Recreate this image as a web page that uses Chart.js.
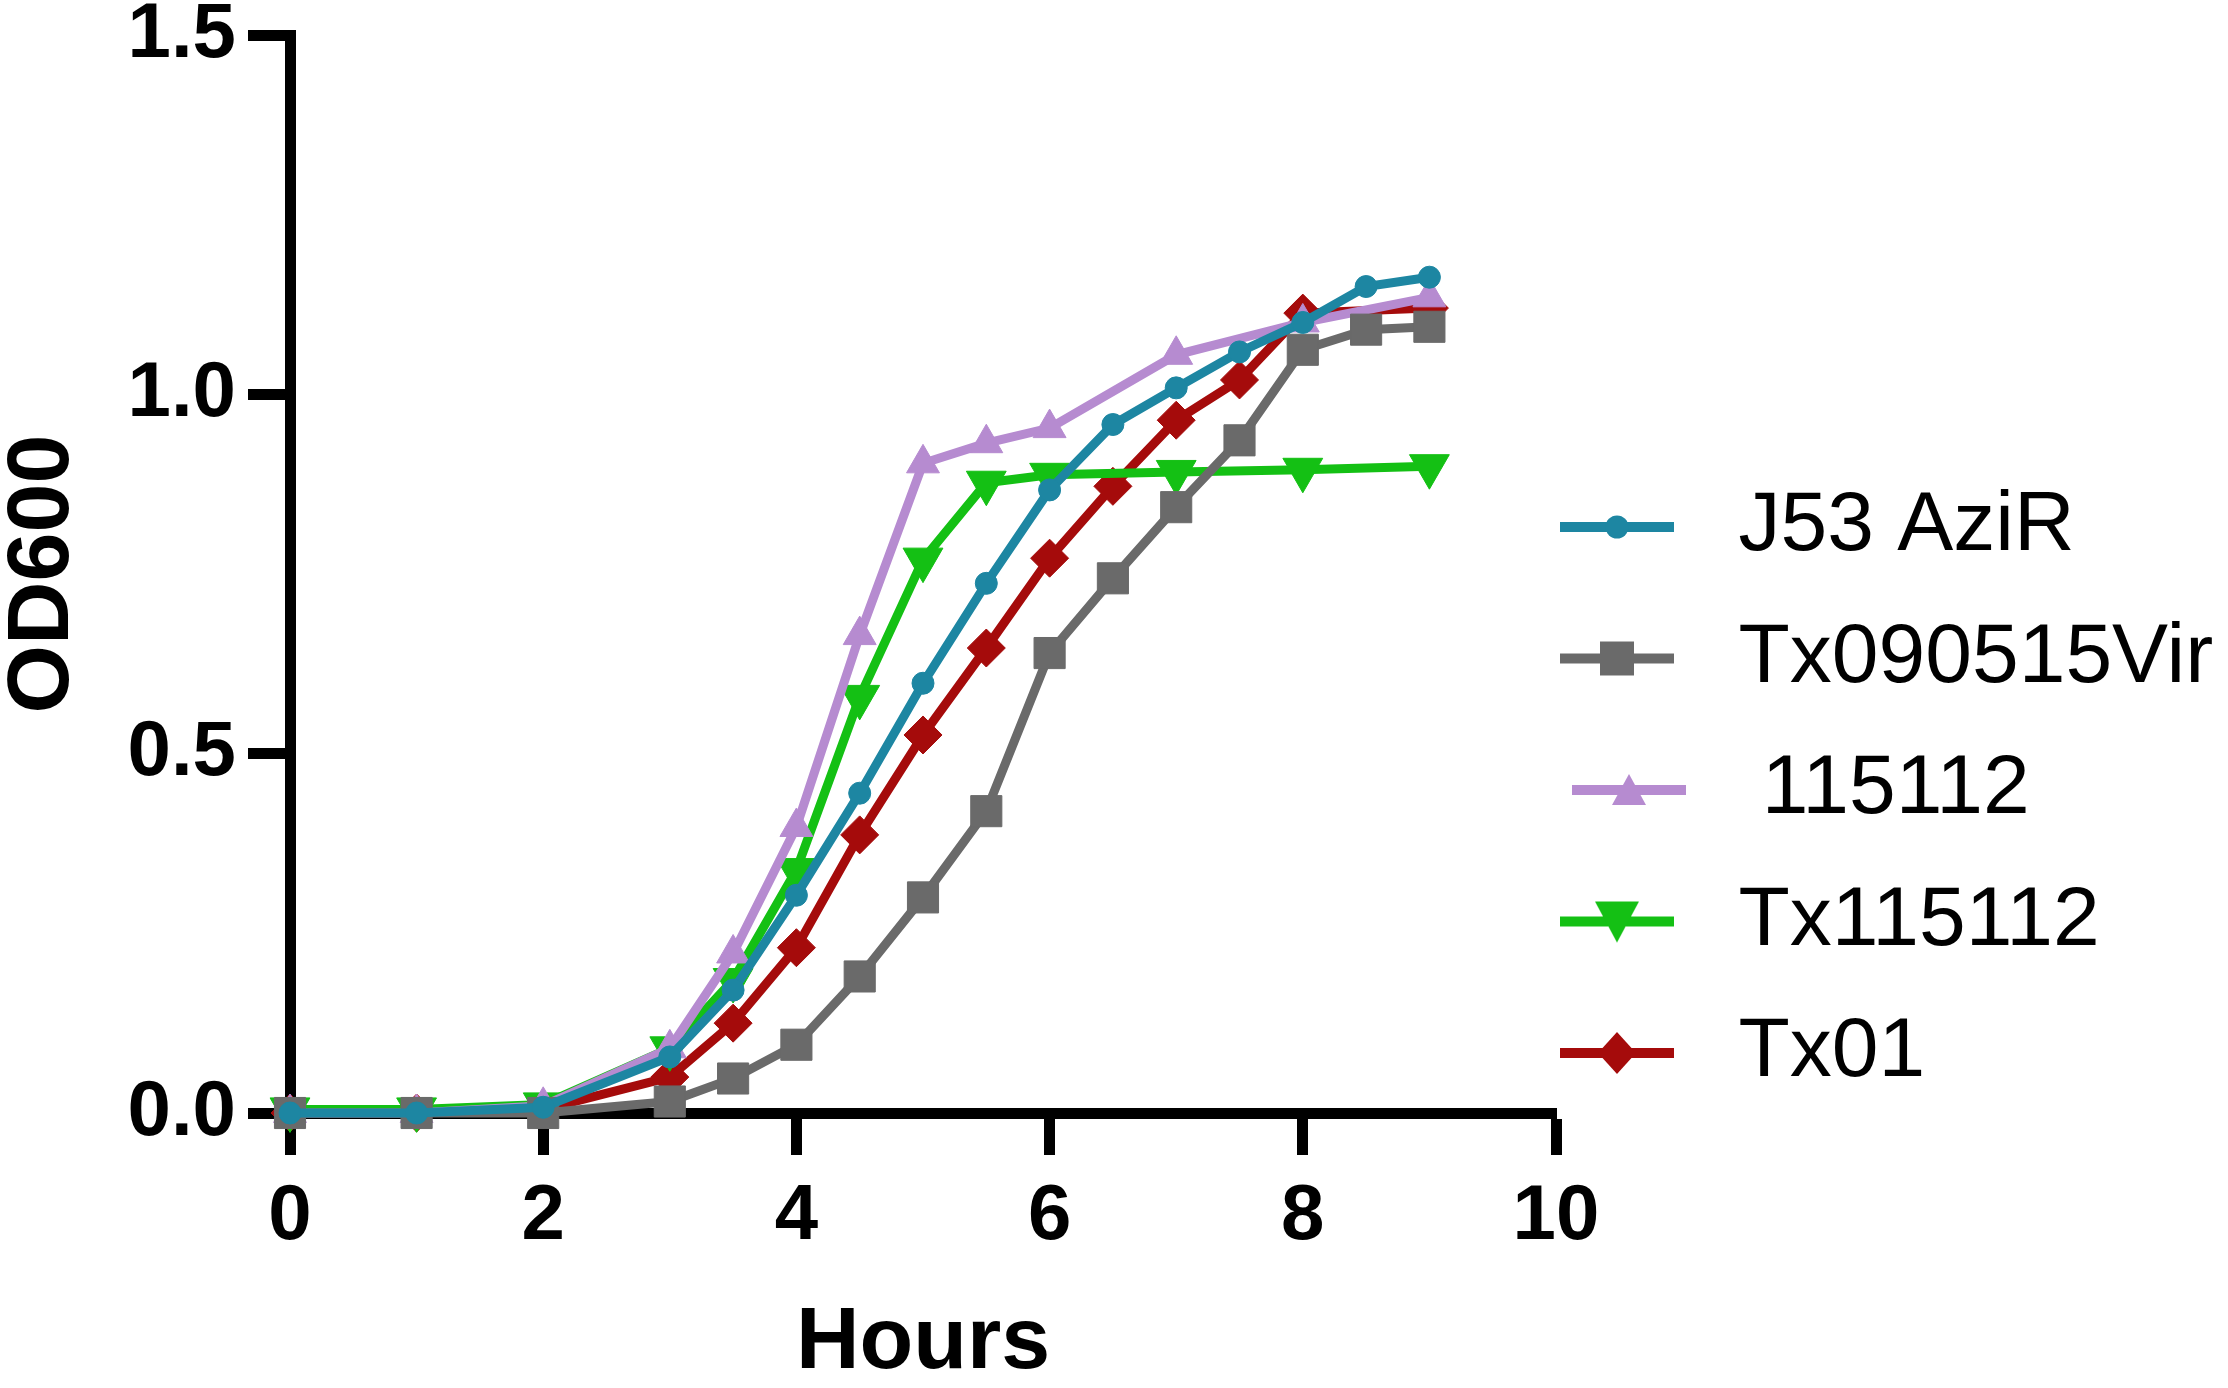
<!DOCTYPE html>
<html>
<head>
<meta charset="utf-8">
<script src="https://cdn.jsdelivr.net/npm/chart.js@4.4.1/dist/chart.umd.min.js"></script>
<style>
  html, body { margin: 0; padding: 0; background: #ffffff; }
  #wrap { width: 2228px; height: 1388px; }
</style>
</head>
<body>
<div id="wrap"><canvas id="c" width="2228" height="1388"></canvas></div>
<script>
// ---------------- data ----------------
const seriesNames = ['J53 AziR', 'Tx090515Vir', '115112', 'Tx115112', 'Tx01'];

const hoursJ53 = [0, 1, 2, 3, 3.5, 4, 4.5, 5, 5.5, 6, 6.5, 7, 7.5, 8, 8.5, 9];
const odJ53    = [0, 0, 0.008, 0.078, 0.171, 0.303, 0.445, 0.598, 0.737, 0.867, 0.958, 1.009, 1.059, 1.100, 1.150, 1.163];

const hoursTx090515Vir = [0, 1, 2, 3, 3.5, 4, 4.5, 5, 5.5, 6, 6.5, 7, 7.5, 8, 8.5, 9];
const odTx090515Vir    = [0, 0, 0, 0.016, 0.048, 0.095, 0.190, 0.300, 0.420, 0.640, 0.744, 0.843, 0.936, 1.062, 1.090, 1.094];

const hours115112 = [0, 1, 2, 3, 3.5, 4, 4.5, 5, 5.5, 6, 7, 8, 9];
const od115112    = [0, 0, 0.010, 0.090, 0.222, 0.398, 0.665, 0.904, 0.932, 0.953, 1.055, 1.100, 1.135];

const hoursTx115112 = [0, 1, 2, 3, 3.5, 4, 4.5, 5, 5.5, 6, 7, 8, 9];
const odTx115112    = [0.005, 0.005, 0.012, 0.090, 0.185, 0.338, 0.579, 0.770, 0.877, 0.888, 0.892, 0.895, 0.900];

const hoursTx01 = [0, 1, 2, 3, 3.5, 4, 4.5, 5, 5.5, 6, 6.5, 7, 7.5, 8, 9];
const odTx01    = [0, 0, 0.005, 0.050, 0.125, 0.230, 0.387, 0.526, 0.647, 0.772, 0.872, 0.964, 1.020, 1.113, 1.120];

const xTicks = [0, 2, 4, 6, 8, 10];
const yTicks = [0, 0.5, 1.0, 1.5];
const xTitle = 'Hours';
const yTitle = 'OD600';

// ---------------- styles ----------------
const FONT = "'Liberation Sans', Arial, Helvetica, sans-serif";
const colors = ['#1d86a2', '#6a6a6a', '#b68bd0', '#14c014', '#a50b0b'];
const styles = [
  { pointStyle: 'circle',   radius: 11, rotation: 0 },
  { pointStyle: 'rect',     radius: 22, rotation: 0 },
  { pointStyle: 'triangle', radius: 19, rotation: 0 },
  { pointStyle: 'triangle', radius: 23, rotation: 180 },
  { pointStyle: 'rectRot',  radius: 19, rotation: 0 }
];

function toPoints(xs, ys) { return xs.map((x, i) => ({ x: x, y: ys[i] })); }
const seriesData = [
  toPoints(hoursJ53, odJ53),
  toPoints(hoursTx090515Vir, odTx090515Vir),
  toPoints(hours115112, od115112),
  toPoints(hoursTx115112, odTx115112),
  toPoints(hoursTx01, odTx01)
];

// legend icons: line + marker
const iconShift = [0, 0, 12, 0, 0];
function makeIcon(i) {
  const cv = document.createElement('canvas');
  cv.width = 180; cv.height = 60;
  const g = cv.getContext('2d');
  const c = colors[i];
  const x0 = iconShift[i];
  const cx = x0 + 57, cy = 30;
  g.strokeStyle = c; g.fillStyle = c; g.lineWidth = 10;
  g.beginPath(); g.moveTo(x0, cy); g.lineTo(x0 + 114, cy); g.stroke();
  g.beginPath();
  if (i === 0) { g.arc(cx, cy, 11.5, 0, Math.PI * 2); }
  else if (i === 1) { g.rect(cx - 17, cy - 17, 34, 34); }
  else if (i === 2) { g.moveTo(cx, cy - 16); g.lineTo(cx + 17, cy + 15); g.lineTo(cx - 17, cy + 15); g.closePath(); }
  else if (i === 3) { g.moveTo(cx - 22, cy - 20); g.lineTo(cx + 22, cy - 20); g.lineTo(cx, cy + 21); g.closePath(); }
  else { g.moveTo(cx, cy - 21); g.lineTo(cx + 19, cy); g.lineTo(cx, cy + 21); g.lineTo(cx - 19, cy); g.closePath(); }
  g.fill();
  return cv;
}
const legendIcons = seriesNames.map((n, i) => makeIcon(i));
const legendIndent = ['', '', ' ', '', ''];

const datasets = seriesNames.map((name, i) => ({
  label: name,
  data: seriesData[i],
  borderColor: colors[i],
  backgroundColor: colors[i],
  borderWidth: 9,
  pointStyle: styles[i].pointStyle,
  pointRadius: styles[i].radius,
  pointRotation: styles[i].rotation,
  pointBorderWidth: 1,
  pointBorderColor: colors[i],
  pointBackgroundColor: colors[i],
  pointHoverRadius: styles[i].radius,
  tension: 0,
  fill: false,
  clip: false
}));

// place the legend box: start rows lower and let it run to the canvas edge
const legendPlacer = {
  id: 'legendPlacer',
  afterLayout(chart) {
    const lg = chart.legend;
    if (lg) {
      lg.top = 437.5;
      lg.right = chart.width;
      lg.width = lg.right - lg.left;
    }
  }
};

Chart.defaults.font.family = FONT;
Chart.defaults.color = '#000';

new Chart(document.getElementById('c'), {
  type: 'line',
  data: { datasets: datasets },
  plugins: [legendPlacer],
  options: {
    responsive: false,
    devicePixelRatio: 1,
    animation: false,
    layout: { padding: { top: 35, right: 72, bottom: 0, left: 0 } },
    plugins: {
      tooltip: { enabled: false },
      legend: {
        display: true,
        position: 'right',
        align: 'start',
        maxWidth: 600,
        labels: {
          usePointStyle: true,
          pointStyleWidth: 93,
          padding: 47.5,
          color: '#000',
          font: { family: FONT, size: 84, weight: 'normal' },
          generateLabels(chart) {
            return chart.data.datasets.map((ds, i) => ({
              text: legendIndent[i] + ds.label,
              pointStyle: legendIcons[i],
              fillStyle: ds.borderColor,
              strokeStyle: ds.borderColor,
              lineWidth: 0,
              hidden: false,
              datasetIndex: i,
              fontColor: '#000'
            }));
          }
        }
      }
    },
    scales: {
      x: {
        type: 'linear',
        position: 'bottom',
        min: 0, max: 10,
        afterFit(scale) { scale.height = 275; scale.paddingLeft = 0; scale.paddingRight = 0; },
        afterBuildTicks(scale) { scale.ticks = xTicks.map(v => ({ value: v })); },
        ticks: {
          padding: 16,
          color: '#000',
          font: { family: FONT, size: 78, weight: 'bold' },
          callback: v => String(v)
        },
        grid: { display: true, drawOnChartArea: false, drawTicks: true, tickLength: 42, tickWidth: 11, tickColor: '#000' },
        border: { display: true, color: '#000', width: 11 },
        title: { display: true, text: xTitle, color: '#000', padding: 0, font: { family: FONT, size: 88, weight: 'bold', lineHeight: 1 } }
      },
      y: {
        type: 'linear',
        min: 0, max: 1.5,
        afterFit(scale) { scale.width = 290; scale.paddingTop = 0; scale.paddingBottom = 0; },
        afterBuildTicks(scale) { scale.ticks = yTicks.map(v => ({ value: v })); },
        ticks: {
          padding: 12,
          color: '#000',
          font: { family: FONT, size: 78, weight: 'bold' },
          callback: v => Number(v).toFixed(1)
        },
        grid: { display: true, drawOnChartArea: false, drawTicks: true, tickLength: 42, tickWidth: 11, tickColor: '#000' },
        border: { display: true, color: '#000', width: 11 },
        title: { display: true, text: yTitle, color: '#000', padding: 0, font: { family: FONT, size: 88, weight: 'bold', lineHeight: 1 } }
      }
    }
  }
});
</script>
</body>
</html>
